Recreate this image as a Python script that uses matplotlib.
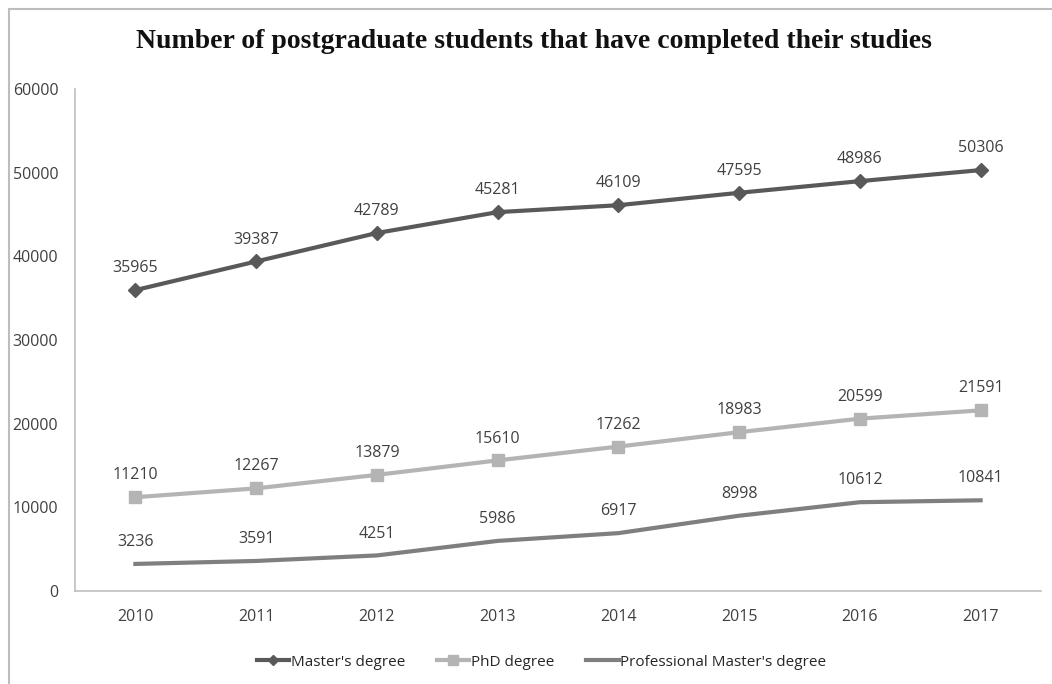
import matplotlib
matplotlib.use("Agg")
import matplotlib.pyplot as plt
from matplotlib.patches import Rectangle

years = ["2010", "2011", "2012", "2013", "2014", "2015", "2016", "2017"]
masters = [35965, 39387, 42789, 45281, 46109, 47595, 48986, 50306]
phd = [11210, 12267, 13879, 15610, 17262, 18983, 20599, 21591]
professional = [3236, 3591, 4251, 5986, 6917, 8998, 10612, 10841]
yticks = [0, 10000, 20000, 30000, 40000, 50000, 60000]

W, H = 1052, 684
fig = plt.figure(figsize=(W / 100, H / 100), dpi=100)
fig.patch.set_facecolor("white")

# outer frame
fig.add_artist(Rectangle((9 / W, -0.1), 1.2, (H - 9) / H + 0.1, transform=fig.transFigure,
                         fill=False, edgecolor="#bdbdbd", linewidth=1.5))

ax = fig.add_axes([75 / W, 1 - 591 / H, (1041 - 75) / W, (591 - 89) / H])
x = list(range(len(years)))

font = "Open Sans"
fs = 11.5
c_m, c_p, c_pr = "#595959", "#b4b4b4", "#7f7f7f"
ax.plot(x, masters, color=c_m, lw=3, marker="D", ms=7, label="Master's degree")
ax.plot(x, phd, color=c_p, lw=3, marker="s", ms=9, label="PhD degree")
ax.plot(x, professional, color=c_pr, lw=3, label="Professional Master's degree")

for series in (masters, phd, professional):
    for xi, v in zip(x, series):
        ax.annotate(str(v), (xi, v), xytext=(0, 10), textcoords="offset points",
                    ha="center", va="bottom", fontsize=fs, color="#404040", family=font)

ax.set_xlim(-0.5, len(years) - 0.5)
ax.set_ylim(0, 60000)
ax.set_yticks(yticks)
ax.set_yticklabels([str(t) for t in yticks])
ax.set_xticks(x)
ax.set_xticklabels(years)
ax.tick_params(length=0, labelsize=fs, labelcolor="#404040", pad=13)
ax.tick_params(axis="y", pad=12)
for lab in ax.get_xticklabels() + ax.get_yticklabels():
    lab.set_family(font)
for s in ("top", "right"):
    ax.spines[s].set_visible(False)
for s in ("left", "bottom"):
    ax.spines[s].set_color("#bfbfbf")
    ax.spines[s].set_linewidth(1.2)

fig.text(0.508, 1 - 42 / H, "Number of postgraduate students that have completed their studies",
         ha="center", va="center", fontsize=20, fontweight="bold", family="Liberation Serif", color="#111111")

fig.legend(loc="center", bbox_to_anchor=(0.515, 1 - 662 / H), ncol=3, frameon=False,
           prop={"family": font, "size": 11}, handlelength=2.1, columnspacing=2.1,
           handletextpad=0.1, labelcolor="#262626", markerscale=0.8)

fig.savefig("out.png", dpi=100)
